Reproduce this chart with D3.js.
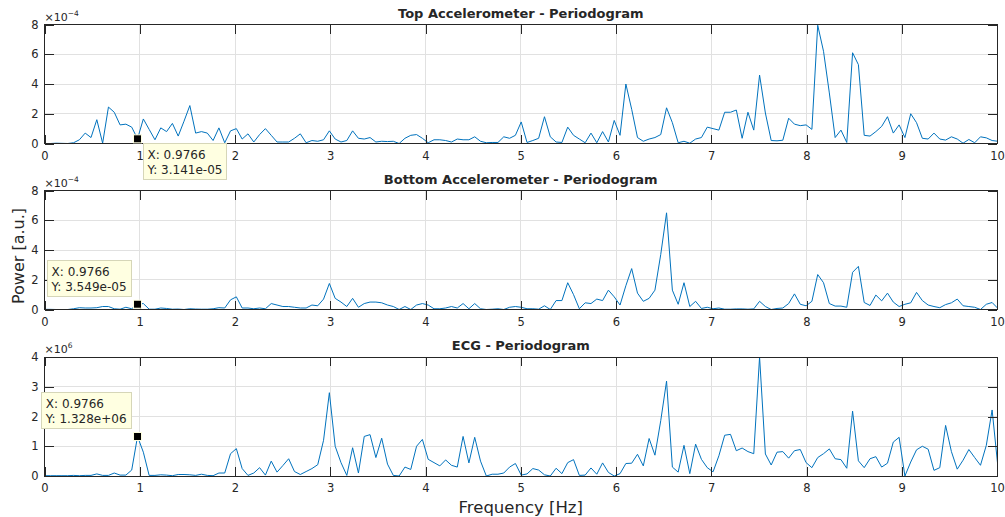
<!DOCTYPE html>
<html>
<head>
<meta charset="utf-8">
<script src="https://cdn.jsdelivr.net/npm/d3@7"></script>
<style>
body { margin: 0; background: #fff; }
svg text { font-family: "DejaVu Sans", sans-serif; fill: #262626; }
</style>
</head>
<body>
<svg id="chart" width="1005" height="517"></svg>
<script>
// bin spacing of the periodogram (fs = 250 Hz, nfft = 4096)
var df = 250 / 4096;

// power, in units of 1e-4
var topAccel = [0, 0, 0.02, 0.01, 0, 0.05, 0.25, 0.7, 0.4, 1.6,
	0.02, 2.45, 2.1, 1.25, 1.3, 1.1, 0.3141, 1.65, 0.95, 0.25,
	1.05, 0.8, 1.35, 0.5, 1.5, 2.55, 0.7, 0.8, 0.7, 0.2,
	1.05, 0.05, 0.85, 1.0, 0.3, 0.65, 0.1, 0.6, 1.0, 0.55,
	0.1, 0.1, 0.1, 0.35, 0.65, 0.05, 0.2, 0.15, 0.25, 0.85,
	0.3, 0.1, 0.2, 0.85, 0.35, 0.3, 0.4, 0.1, 0.15, 0.13,
	0.15, 0, 0.35, 0.55, 0.6, 0.35, 0.05, 0.25, 0.25, 0.2,
	0.1, 0.3, 0.25, 0.25, 0.45, 0.15, 0.05, 0.07, 0.07, 0.45,
	0.35, 0.55, 1.45, 0.07, 0.2, 0.35, 1.8, 0.45, 0.1, 0.07,
	1.1, 0.55, 0.3, 0.05, 0.7, 0.05, 0.8, 0.1, 1.55, 0.55,
	4.0, 2.3, 0.4, 0.15, 0.3, 0.4, 0.6, 2.4, 1.4, 0.05,
	0.15, 0.02, 0.3, 0.4, 1.1, 1.0, 0.9, 2.1, 2.1, 2.25,
	0.35, 2.1, 0.9, 4.6, 2.05, 0.2, 0.18, 0.22, 1.7, 1.3,
	1.2, 1.25, 0.95, 7.95, 6.2, 3.4, 0.4, 0.9, 0.07, 6.1,
	5.3, 0.55, 0.5, 0.8, 1.15, 1.8, 0.7, 1.25, 0.4, 2.0,
	1.4, 0.35, 0.3, 0.7, 0.3, 0.23, 0.45, 0.3, 0.02, 0.27,
	0.05, 0.45, 0.38, 0.2, 0.15];

// power, in units of 1e-4
var bottomAccel = [0.01, 0.01, 0, 0, 0, 0.05, 0.12, 0.1, 0.1, 0.12,
	0.2, 0.2, 0.05, 0.02, 0.15, 0.05, 0.3549, 0.4, 0.02, 0.02,
	0.1, 0.07, 0.02, 0.03, 0, 0.05, 0.03, 0.02, 0.02, 0.05,
	0.12, 0.1, 0.65, 0.85, 0.1, 0.1, 0.05, 0.1, 0.05, 0.4,
	0.3, 0.2, 0.2, 0.15, 0.1, 0.1, 0.3, 0.25, 0.7, 1.75,
	0.75, 0.5, 0.2, 0.75, 0.15, 0.4, 0.5, 0.5, 0.45, 0.3,
	0.2, 0, 0.2, 0, 0.3, 0.4, 0.3, 0.05, 0.05, 0.1,
	0.2, 0.1, 0.4, 0.05, 0.4, 0.05, 0, 0.02, 0.05, 0,
	0.15, 0.2, 0.15, 0.05, 0.05, 0.02, 0.25, 0, 0.6, 0.6,
	1.8, 1.0, 0.05, 0.45, 0.4, 0.7, 0.6, 1.3, 0.85, 0.3,
	1.6, 2.75, 1.1, 0.55, 0.75, 1.3, 3.7, 6.5, 1.3, 0.35,
	1.8, 0.2, 0.55, 0.07, 0.15, 0.05, 0.1, 0.02, 0.02, 0.04,
	0.04, 0.02, 0.04, 0.55, 0.2, 0, 0.07, 0.1, 0.4, 1.05,
	0.35, 0.25, 0.55, 2.35, 1.8, 0.4, 0.23, 0.23, 0.15, 2.5,
	2.9, 0.47, 0.27, 0.97, 0.58, 1.1, 0.5, 0.2, 0.35, 0.45,
	1.15, 0.6, 0.3, 0.2, 0.12, 0.33, 0.45, 0.7, 0.25, 0.2,
	0.15, 0, 0.35, 0.47, 0.07];

// power, in units of 1e6
var ecg = [0.01, 0.01, 0.01, 0.01, 0.01, 0.02, 0.01, 0.02, 0.02, 0.07,
	0.02, 0.02, 0.1, 0.03, 0.03, 0.2, 1.328, 0.8, 0.02, 0.02,
	0.04, 0.03, 0.01, 0.05, 0.05, 0.04, 0.02, 0.06, 0.02, 0.01,
	0.1, 0.1, 0.75, 0.92, 0.25, 0.02, 0.1, 0.28, 0.03, 0.5,
	0.13, 0.35, 0.58, 0.15, 0.05, 0.15, 0.25, 0.38, 1.2, 2.8,
	1.0, 0.45, 0.02, 0.95, 0.1, 1.33, 1.39, 0.62, 1.27, 0.4,
	0.02, 0, 0.3, 0.22, 1.0, 1.23, 0.56, 0.45, 0.34, 0.54,
	0.36, 0.3, 1.33, 0.44, 1.3, 0.5, 0, 0.06, 0.06, 0.1,
	0.3, 0.42, 0.03, 0.07, 0.25, 0.2, 0.04, 0, 0.26, 0.08,
	0.45, 0.55, 0.02, 0.03, 0.27, 0.06, 0.44, 0.12, 0, 0.08,
	0.42, 0.43, 0.73, 0.34, 1.26, 0.7, 1.86, 3.19, 0.3, 0.13,
	1.03, 0.08, 1.07, 0.56, 0.28, 0.14, 0.68, 1.37, 1.4, 0.85,
	0.94, 0.82, 0.75, 4.0, 0.74, 0.37, 0.8, 0.82, 0.6, 0.85,
	0.89, 0.45, 0.28, 0.62, 0.75, 0.91, 0.58, 0.55, 0.26, 2.18,
	0.51, 0.28, 0.58, 0.65, 0.3, 0.43, 1.14, 1.3, 0, 0.47,
	0.88, 1.0, 0.9, 0.19, 0.28, 1.7, 0.82, 0.23, 0.53, 0.89,
	0.62, 0.36, 1.03, 2.22, 0.3];

var freqs = topAccel.map(function(d, i) { return i * df; });

var xTicks = [0, 1, 2, 3, 4, 5, 6, 7, 8, 9, 10];
var accelTicks = [0, 2, 4, 6, 8];
var ecgTicks = [0, 1, 2, 3, 4];

var titles = ["Top Accelerometer - Periodogram", "Bottom Accelerometer - Periodogram", "ECG - Periodogram"];
var exponents = ["\u22124", "\u22124", "6"];
var tipIndex = 16;
var tipX = ["0.9766", "0.9766", "0.9766"];
var tipY = ["3.141e-05", "3.549e-05", "1.328e+06"];
var tipSide = ["below", "above", "above"];

var panels = [
	{ values: topAccel, yMax: 8, ticks: accelTicks },
	{ values: bottomAccel, yMax: 8, ticks: accelTicks },
	{ values: ecg, yMax: 4, ticks: ecgTicks }
];

var left = 44.5, right = 997;
var panelTop = [24.5, 190.5, 357];
var panelH = 119;
var tickLen = 9;

var svg = d3.select("#chart");
var x = d3.scaleLinear().domain([0, 10]).range([left, right]);

function styleAxis(g, labels) {
	g.select(".domain").remove();
	g.attr("font-family", null).attr("font-size", null);
	g.selectAll(".tick line").attr("stroke", "#262626").attr("shape-rendering", "crispEdges");
	g.selectAll(".tick text").attr("fill", "#262626").style("font-size", "11.5px");
	if (!labels) g.selectAll(".tick text").remove();
}

panels.forEach(function(p, k) {
	var top = panelTop[k], bottom = top + panelH;
	var y = d3.scaleLinear().domain([0, p.yMax]).range([bottom, top]);
	var g = svg.append("g");

	//grid
	g.append("g").selectAll("line").data(xTicks).join("line")
		.attr("x1", function(d) { return x(d); }).attr("x2", function(d) { return x(d); })
		.attr("y1", top).attr("y2", bottom)
		.attr("stroke", "#e1e1e1").attr("shape-rendering", "crispEdges");
	g.append("g").selectAll("line").data(p.ticks).join("line")
		.attr("x1", left).attr("x2", right)
		.attr("y1", function(d) { return y(d); }).attr("y2", function(d) { return y(d); })
		.attr("stroke", "#e1e1e1").attr("shape-rendering", "crispEdges");

	//data line, clipped to the axes box
	svg.append("clipPath").attr("id", "clip" + k)
		.append("rect").attr("x", left).attr("y", top - 1).attr("width", right - left).attr("height", panelH + 2);
	g.append("path").datum(p.values)
		.attr("clip-path", "url(#clip" + k + ")")
		.attr("fill", "none")
		.attr("stroke", "#0072bd")
		.attr("stroke-width", 1)
		.attr("stroke-linejoin", "round")
		.attr("d", d3.line()
			.x(function(d, i) { return x(freqs[i]); })
			.y(function(d) { return y(d); }));

	//axes, ticks pointing inwards on all four sides
	g.append("g").attr("transform", "translate(0," + bottom + ")")
		.call(d3.axisBottom(x).tickValues(xTicks).tickSize(-tickLen).tickPadding(8).tickFormat(d3.format("d")))
		.call(styleAxis, true);
	g.append("g").attr("transform", "translate(0," + top + ")")
		.call(d3.axisTop(x).tickValues(xTicks).tickSize(-tickLen))
		.call(styleAxis, false);
	g.append("g").attr("transform", "translate(" + left + ",0)")
		.call(d3.axisLeft(y).tickValues(p.ticks).tickSize(-tickLen).tickPadding(6).tickFormat(d3.format("d")))
		.call(styleAxis, true);
	g.append("g").attr("transform", "translate(" + right + ",0)")
		.call(d3.axisRight(y).tickValues(p.ticks).tickSize(-tickLen))
		.call(styleAxis, false);

	g.append("rect")
		.attr("x", left).attr("y", top).attr("width", right - left).attr("height", panelH)
		.attr("fill", "none").attr("stroke", "#262626").attr("shape-rendering", "crispEdges");

	//exponent label
	var ex = g.append("text").attr("x", left).attr("y", top - 4).style("font-size", "11px");
	ex.append("tspan").text("\u00d710");
	ex.append("tspan").attr("dy", -5).style("font-size", "7.5px").text(exponents[k]);

	g.append("text")
		.attr("x", (left + right) / 2).attr("y", top - 7)
		.attr("text-anchor", "middle")
		.style("font-size", "13px").style("font-weight", "bold")
		.text(titles[k]);

	//data tip
	var mx = x(freqs[tipIndex]), my = y(p.values[tipIndex]);
	var tip = g.append("g");
	var box = tip.append("rect").attr("fill", "#ffffe1").attr("stroke", "#d6d6b8").attr("shape-rendering", "crispEdges");
	var t1 = tip.append("text").attr("x", 4.5).attr("y", 15).style("font-size", "12px").text("X: " + tipX[k]);
	var t2 = tip.append("text").attr("x", 4.5).attr("y", 30).style("font-size", "12px").text("Y: " + tipY[k]);
	var bw = Math.max(t1.node().getComputedTextLength(), t2.node().getComputedTextLength()) + 9;
	var bh = 36;
	box.attr("width", bw).attr("height", bh);
	var bx, by;
	if (tipSide[k] == "below") {
		bx = mx + 5.5; by = my + 5;
	} else {
		bx = mx - 6.5 - bw; by = my - 7.5 - bh;
	}
	tip.attr("transform", "translate(" + bx + "," + by + ")");
	g.append("rect")
		.attr("x", mx - 4).attr("y", my - 4).attr("width", 8).attr("height", 8)
		.attr("fill", "#000").attr("stroke", "#ffffe1");
});

svg.append("text")
	.attr("x", (left + right) / 2).attr("y", 513)
	.attr("text-anchor", "middle")
	.style("font-size", "16.5px")
	.text("Frequency [Hz]");

svg.append("text")
	.attr("transform", "translate(24,256) rotate(-90)")
	.attr("text-anchor", "middle")
	.style("font-size", "16px")
	.text("Power [a.u.]");
</script>
</body>
</html>
